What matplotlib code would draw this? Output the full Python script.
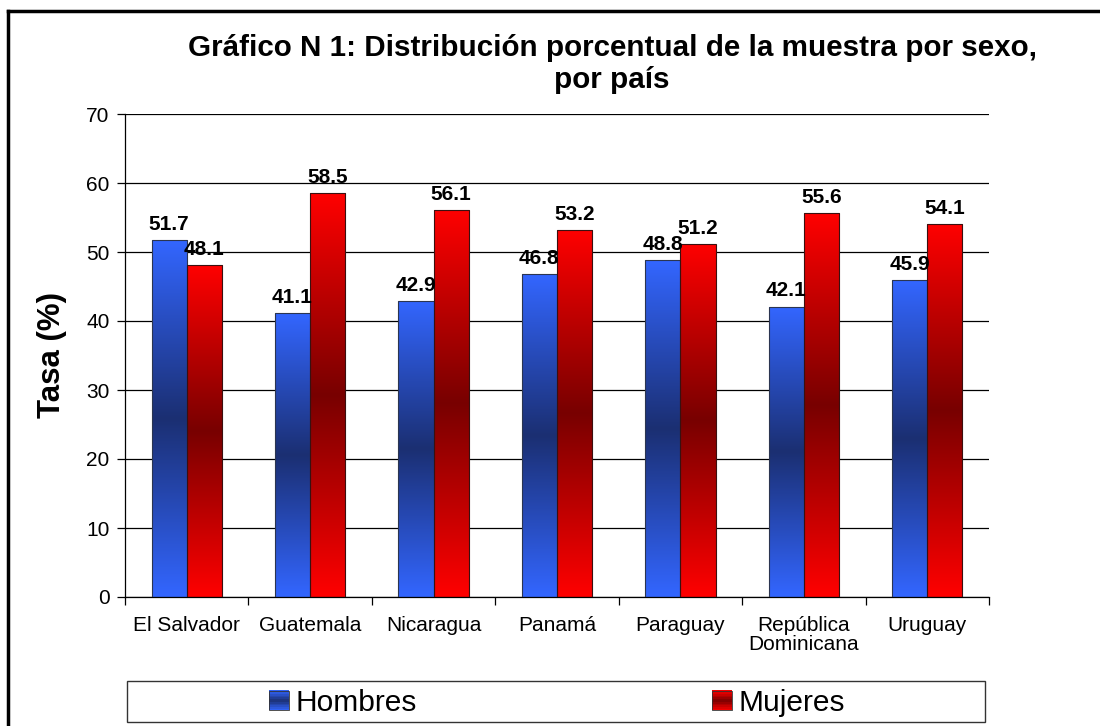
import numpy as np
import matplotlib
matplotlib.use('Agg')
import matplotlib.pyplot as plt
from matplotlib.colors import LinearSegmentedColormap
from matplotlib.patches import Rectangle
from matplotlib.legend_handler import HandlerBase
from matplotlib.lines import Line2D

plt.rcParams['font.family'] = ['Liberation Sans', 'DejaVu Sans']

# datos
paises = ['El Salvador', 'Guatemala', 'Nicaragua', 'Panamá', 'Paraguay',
          'República\nDominicana', 'Uruguay']
hombres = [51.7, 41.1, 42.9, 46.8, 48.8, 42.1, 45.9]
mujeres = [48.1, 58.5, 56.1, 53.2, 51.2, 55.6, 54.1]
series = ['Hombres', 'Mujeres']

# degradado claro - oscuro - claro
cmap_azul = LinearSegmentedColormap.from_list('azul', ['#3366ff', '#1b2f72', '#3366ff'])
cmap_rojo = LinearSegmentedColormap.from_list('rojo', ['#ff0000', '#780000', '#ff0000'])
grad = np.linspace(0, 1, 256).reshape(-1, 1)


def barra_degradado(ax, bars, cmap):
    for b in bars:
        x0, w, h = b.get_x(), b.get_width(), b.get_height()
        im = ax.imshow(grad, cmap=cmap, aspect='auto', origin='lower',
                       extent=(x0, x0 + w, 0, h), zorder=2)
        im.set_clip_path(b)
        b.set_facecolor('none')
        b.set_zorder(3)


class HandlerDegradado(HandlerBase):
    def __init__(self, cmap):
        super().__init__()
        self.cmap = cmap

    def create_artists(self, legend, orig_handle, xdescent, ydescent,
                       width, height, fontsize, trans):
        n = 12
        arts = []
        h0 = -ydescent
        hh = height
        for i in range(n):
            c = self.cmap((i + 0.5) / n)
            r = Rectangle((-xdescent, h0 + hh * i / n), width, hh / n + 0.3,
                          facecolor=c, edgecolor='none', transform=trans)
            arts.append(r)
        arts.append(Rectangle((-xdescent, h0), width, hh, facecolor='none',
                              edgecolor='#333333', lw=0.6, transform=trans))
        return arts


fig = plt.figure(figsize=(11, 7.26), dpi=100)
ax = fig.add_axes([125 / 1100, 1 - 597 / 726, 864 / 1100, 483 / 726])

x = np.arange(len(paises))
w = 0.285
b1 = ax.bar(x - w / 2, hombres, w, edgecolor='#2b3550', linewidth=0.8)
b2 = ax.bar(x + w / 2, mujeres, w, edgecolor='#3a1010', linewidth=0.8)
barra_degradado(ax, b1, cmap_azul)
barra_degradado(ax, b2, cmap_rojo)

for i in range(len(paises)):
    ax.text(x[i] - w / 2, hombres[i] + 0.9, f'{hombres[i]:.1f}', ha='center',
            va='bottom', fontsize=15, fontweight='bold', zorder=4)
    ax.text(x[i] + w / 2, mujeres[i] + 0.9, f'{mujeres[i]:.1f}', ha='center',
            va='bottom', fontsize=15, fontweight='bold', zorder=4)

ax.set_xlim(-0.5, len(paises) - 0.5)
ax.set_ylim(0, 70)
ax.set_yticks(range(0, 71, 10))
ax.yaxis.grid(True, color='black', linewidth=0.9)
ax.set_axisbelow(True)
ax.set_xticks(x)
ax.set_xticklabels(paises, fontsize=15, linespacing=1.0)
ax.set_xticks(np.arange(-0.5, len(paises)), minor=True)
ax.tick_params(axis='x', which='major', length=0, pad=14)
ax.tick_params(axis='x', which='minor', length=6, width=0.9, direction='out')
ax.tick_params(axis='y', labelsize=15, length=6, width=0.9, pad=5)
for s in ['top', 'right']:
    ax.spines[s].set_visible(False)
for s in ['left', 'bottom']:
    ax.spines[s].set_linewidth(0.9)

ax.set_ylabel('Tasa (%)', fontsize=22.5, fontweight='bold', labelpad=14)

fig.text(612 / 1100, 1 - 64 / 726,
         'Gráfico N 1: Distribución porcentual de la muestra por sexo,\npor país',
         ha='center', va='center', fontsize=21.3, fontweight='bold', linespacing=1.15)

# marco exterior
fig.add_artist(Line2D([8 / 1100, 8 / 1100], [0, 1 - 11 / 726], color='black',
                      lw=2.5, transform=fig.transFigure))
fig.add_artist(Line2D([8 / 1100, 1], [1 - 11 / 726, 1 - 11 / 726], color='black',
                      lw=2.5, transform=fig.transFigure))

# leyenda
fig.add_artist(Rectangle((127 / 1100, 1 - 722 / 726), 858 / 1100, 41 / 726,
                         facecolor='white', edgecolor='#333333', lw=1.0,
                         transform=fig.transFigure))
h1 = Rectangle((0, 0), 1, 1)
h2 = Rectangle((0, 0), 1, 1)
fig.legend([h1, h2], series, loc='center',
           bbox_to_anchor=(557 / 1100, 1 - 703 / 726), ncol=2, frameon=False,
           fontsize=21.5, handlelength=0.67, handleheight=0.65, handletextpad=0.2,
           columnspacing=9.9,
           handler_map={h1: HandlerDegradado(cmap_azul), h2: HandlerDegradado(cmap_rojo)})

fig.savefig('out.png', dpi=100)
